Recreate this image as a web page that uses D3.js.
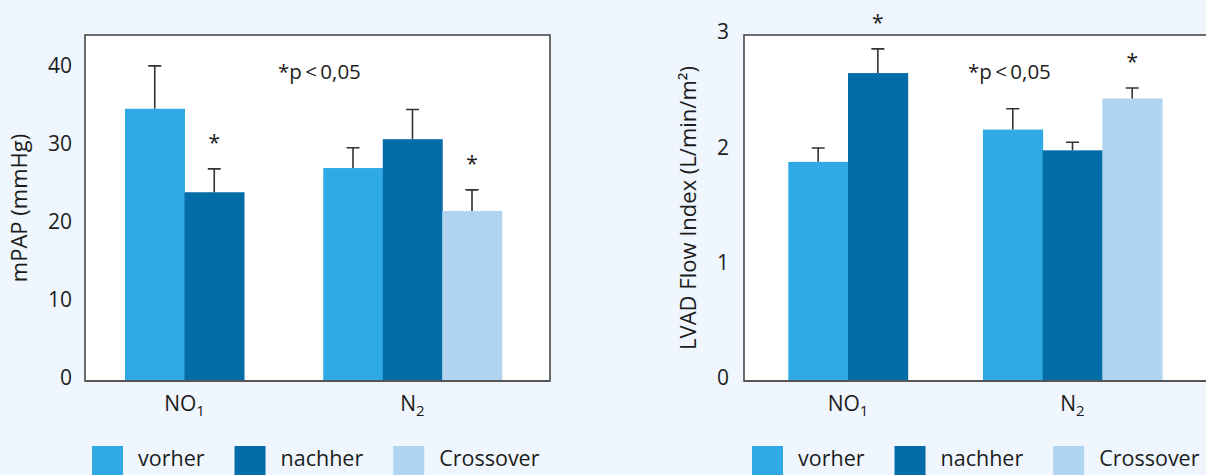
<!DOCTYPE html>
<html>
<head>
<meta charset="utf-8">
<script src="https://cdn.jsdelivr.net/npm/d3@7"></script>
<style>
  html, body { margin: 0; padding: 0; background: #eff6fd; }
  svg { display: block; }
  text { font-family: "Open Sans", "Noto Sans", sans-serif; fill: #1c1c1c; }
</style>
</head>
<body>
<svg id="chart" width="1206" height="475"></svg>
<script>
// Groups and series
const categories = ["NO", "N"];
const categorySubs = ["1", "2"];
const seriesNames = ["vorher", "nachher", "Crossover"];
const seriesColors = ["#30aae4", "#046ca6", "#b1d5f1"];

// mPAP (mmHg): means and upper error per series, one entry per group
const mpapVorher = [34.9, 27.3];
const mpapNachher = [24.2, 31.0];
const mpapCrossover = [null, 21.8];
const mpapErrVorher = [5.5, 2.6];
const mpapErrNachher = [3.0, 3.8];
const mpapErrCrossover = [null, 2.7];
const mpapStar = [[false, true, false], [false, false, true]];
const mpapTicks = [0, 10, 20, 30, 40];

// LVAD flow index (L/min/m²)
const flowVorher = [1.90, 2.18];
const flowNachher = [2.67, 2.00];
const flowCrossover = [null, 2.45];
const flowErrVorher = [0.12, 0.18];
const flowErrNachher = [0.21, 0.07];
const flowErrCrossover = [null, 0.09];
const flowStar = [[false, true, false], [false, false, true]];
const flowTicks = [0, 1, 2, 3];

const pText = "*p\u2009<\u20090,05";

const svg = d3.select("#chart");

function buildRows(means, errs) {
  return categories.map((c, gi) => seriesNames
    .map((s, si) => ({ series: s, si, gi, value: means[si][gi], err: errs[si][gi] }))
    .filter(d => d.value != null));
}

function drawPanel(p) {
  const g = svg.append("g");
  const y = d3.scaleLinear().domain(p.domain).range([p.bottom, p.yTopValue]);
  const x0 = d3.scaleBand().domain(categories).range(p.groupRange).padding(0);
  const barW = p.barWidth;

  // plot area
  g.append("rect")
    .attr("x", p.left).attr("y", p.top)
    .attr("width", p.right - p.left).attr("height", p.bottom - p.top)
    .attr("fill", "#ffffff").attr("stroke", "#3c3c3c").attr("stroke-width", 1.5);

  const rows = buildRows(p.means, p.errs);
  rows.forEach((bars, gi) => {
    const cx = x0(categories[gi]) + x0.bandwidth() / 2;
    const inner = d3.scaleBand().domain(bars.map(b => b.series))
      .range([cx - bars.length * barW / 2, cx + bars.length * barW / 2]);
    const grp = g.append("g");

    grp.selectAll("rect.bar").data(bars).join("rect")
      .attr("class", "bar")
      .attr("x", d => inner(d.series))
      .attr("width", inner.bandwidth() + 0.5)
      .attr("y", d => y(d.value))
      .attr("height", d => y(0) - y(d.value))
      .attr("fill", d => seriesColors[d.si]);

    // upper error whiskers
    grp.selectAll("path.err").data(bars).join("path")
      .attr("class", "err")
      .attr("d", d => {
        const mx = inner(d.series) + inner.bandwidth() / 2;
        const t = y(d.value + d.err);
        return `M${mx},${y(d.value)}V${t}M${mx - 6.5},${t}H${mx + 6.5}`;
      })
      .attr("fill", "none").attr("stroke", "#333").attr("stroke-width", 1.6);

    grp.selectAll("text.star").data(bars.filter(d => p.stars[d.gi][d.si])).join("text")
      .attr("class", "star")
      .attr("x", d => inner(d.series) + inner.bandwidth() / 2)
      .attr("y", d => y(d.value + d.err) - 19)
      .attr("text-anchor", "middle")
      .attr("font-size", 21)
      .text("*");

    const lab = g.append("text")
      .attr("x", cx).attr("y", p.bottom + 30)
      .attr("text-anchor", "middle").attr("font-size", 21);
    lab.append("tspan").text(categories[gi]);
    lab.append("tspan").attr("font-size", 15).attr("dy", 5).text(categorySubs[gi]);
  });

  // baseline
  g.append("line")
    .attr("x1", p.left).attr("x2", p.right)
    .attr("y1", p.bottom).attr("y2", p.bottom)
    .attr("stroke", "#555").attr("stroke-width", 2);

  // y tick labels
  const axis = d3.axisLeft(y).tickValues(p.ticks).tickFormat(d3.format("d"))
    .tickSize(0).tickPadding(p.tickPad);
  const ax = g.append("g").attr("transform", `translate(${p.left},0)`).call(axis);
  ax.select(".domain").remove();
  ax.attr("font-size", null).attr("font-family", null);
  ax.selectAll("text")
    .attr("font-size", 21)
    .attr("fill", "#1c1c1c")
    .attr("dy", "0.35em")
    .attr("y", -3.5);

  // axis title
  g.append("text")
    .attr("transform", `translate(${p.titleX},${(p.top + p.bottom) / 2}) rotate(-90)`)
    .attr("text-anchor", "middle").attr("dominant-baseline", "central")
    .attr("font-size", 22)
    .text(p.title);

  g.append("text")
    .attr("x", p.pX).attr("y", 79)
    .attr("font-size", 20.5)
    .text(pText);

  // legend
  let lx = p.legendX;
  seriesNames.forEach((s, i) => {
    g.append("rect")
      .attr("x", lx).attr("y", 446).attr("width", 31).attr("height", 31)
      .attr("fill", seriesColors[i]);
    const t = g.append("text")
      .attr("x", lx + 46).attr("y", 466)
      .attr("font-size", 21.5).text(s);
    lx += 46 + t.node().getComputedTextLength() + 30;
  });
}

drawPanel({
  left: 85, right: 550, top: 35, bottom: 381,
  domain: [0, 40], yTopValue: 69,
  groupRange: [70.5, 526.5], barWidth: 59.5,
  means: [mpapVorher, mpapNachher, mpapCrossover],
  errs: [mpapErrVorher, mpapErrNachher, mpapErrCrossover],
  stars: mpapStar, ticks: mpapTicks, tickPad: 13,
  title: "mPAP (mmHg)", titleX: 18,
  pX: 278, legendX: 92
});

drawPanel({
  left: 744, right: 1212, top: 35, bottom: 381,
  domain: [0, 3], yTopValue: 35,
  groupRange: [735.75, 1184.75], barWidth: 59.7,
  means: [flowVorher, flowNachher, flowCrossover],
  errs: [flowErrVorher, flowErrNachher, flowErrCrossover],
  stars: flowStar, ticks: flowTicks, tickPad: 15,
  title: "LVAD Flow Index (L/min/m²)", titleX: 687,
  pX: 968, legendX: 752
});
</script>
</body>
</html>
